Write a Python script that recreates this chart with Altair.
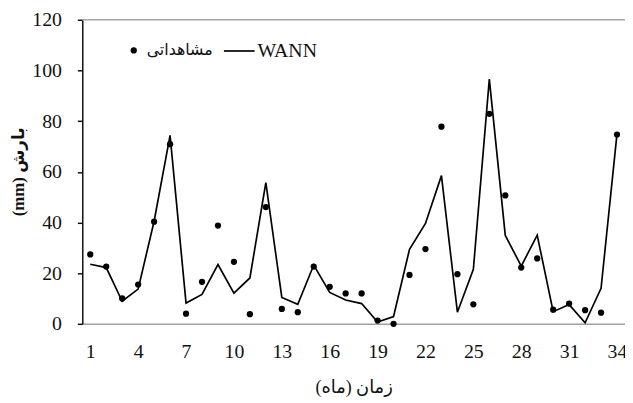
import altair as alt
import pandas as pd

months = list(range(1, 35))
observed = [27.4, 22.6, 10.0, 15.5, 40.3, 70.9, 4.0, 16.6, 38.8, 24.5, 3.8, 46.1,
            5.9, 4.6, 22.6, 14.6, 12.0, 12.0, 1.3, 0.0, 19.3, 29.5, 77.8, 19.6,
            7.7, 82.9, 50.7, 22.2, 25.8, 5.6, 8.0, 5.4, 4.4, 74.7]
wann = [23.5, 22.2, 8.9, 13.7, 40.5, 74.4, 8.2, 11.6, 23.4, 12.1, 18.1, 55.7,
        10.4, 7.7, 23.2, 12.4, 9.4, 8.0, 0.7, 2.9, 29.4, 39.6, 58.5, 4.6,
        21.5, 96.6, 34.9, 22.8, 35.0, 4.8, 7.6, 0.4, 14.0, 75.1]
x_ticks = [1, 4, 7, 10, 13, 16, 19, 22, 25, 28, 31, 34]
y_ticks = [0, 20, 40, 60, 80, 100, 120]
top_line = [120]

obs_name = "مشاهداتی"
model_name = "WANN"
x_title = "زمان (ماه)\u200f"
y_title = "(mm) بارش"

FONT = "Liberation Serif, DejaVu Sans, serif"

df = pd.DataFrame({"month": months, "obs": observed, "wann": wann,
                   "s_obs": obs_name, "s_model": model_name})
df_top = pd.DataFrame({"v": top_line})

x_enc = alt.X(
    "month:Q",
    scale=alt.Scale(domain=[0.5, 34.5], nice=False, zero=False),
    axis=alt.Axis(
        values=x_ticks, ticks=False, tickSize=0, grid=False,
        domainColor="#a0a0a0", domainWidth=1.5,
        labelFont=FONT, labelFontSize=20, labelColor="#111", labelPadding=18,
        title=x_title, titleFont=FONT, titleFontSize=18, titleFontWeight="normal",
        titleColor="#111", titleX=274, titleY=64, titleBaseline="middle",
        titleAlign="center",
    ),
)
y_scale = alt.Scale(domain=[0, 120], nice=False)
y_axis = alt.Axis(
    values=y_ticks, grid=False, tickSize=5, tickColor="#111", tickWidth=1.5,
    domainColor="#111", domainWidth=1.5,
    labelFont=FONT, labelFontSize=20, labelColor="#111", labelPadding=16,
    title=y_title, titleFont=FONT, titleFontSize=17, titleFontWeight="bold",
    titleColor="#111", titleX=-64, titleY=153, titleAngle=270,
    titleBaseline="middle", titleAlign="center",
)

top = alt.Chart(df_top).mark_rule(color="#a6a6a6", strokeWidth=1.5).encode(
    y=alt.Y("v:Q", scale=y_scale, axis=y_axis)
)

line = alt.Chart(df).mark_line(strokeWidth=1.7).encode(
    x=x_enc,
    y=alt.Y("wann:Q", scale=y_scale, axis=y_axis),
    color=alt.Color(
        "s_model:N",
        scale=alt.Scale(domain=[model_name], range=["black"]),
        legend=alt.Legend(
            title=None, orient="none", legendX=142, legendY=15, padding=0,
            symbolType="stroke", symbolSize=961, symbolStrokeWidth=1.7,
            symbolStrokeColor="black",
            labelFont=FONT, labelFontSize=20, labelColor="#111", labelOffset=2,
        ),
    ),
)

points = alt.Chart(df).mark_point(filled=True, size=40, color="black", opacity=1).encode(
    x=x_enc,
    y=alt.Y("obs:Q", scale=y_scale, axis=y_axis),
    shape=alt.Shape(
        "s_obs:N",
        scale=alt.Scale(domain=[obs_name], range=["circle"]),
        legend=alt.Legend(
            title=None, orient="none", legendX=44, legendY=23, padding=0,
            symbolSize=40, symbolFillColor="black", symbolStrokeColor="black",
            symbolStrokeWidth=0,
            labelFont=FONT, labelFontSize=16, labelColor="#111", labelOffset=5,
        ),
    ),
)

chart = alt.layer(top, line, points).resolve_legend(
    shape="independent", color="independent"
).properties(
    width=548, height=307,
    autosize=alt.AutoSizeParams(type="none"),
    padding={"left": 75, "top": 10, "right": 0, "bottom": 75},
).configure_view(stroke=None)

chart.save("out.html", embed_options={"renderer": "svg", "actions": False})
